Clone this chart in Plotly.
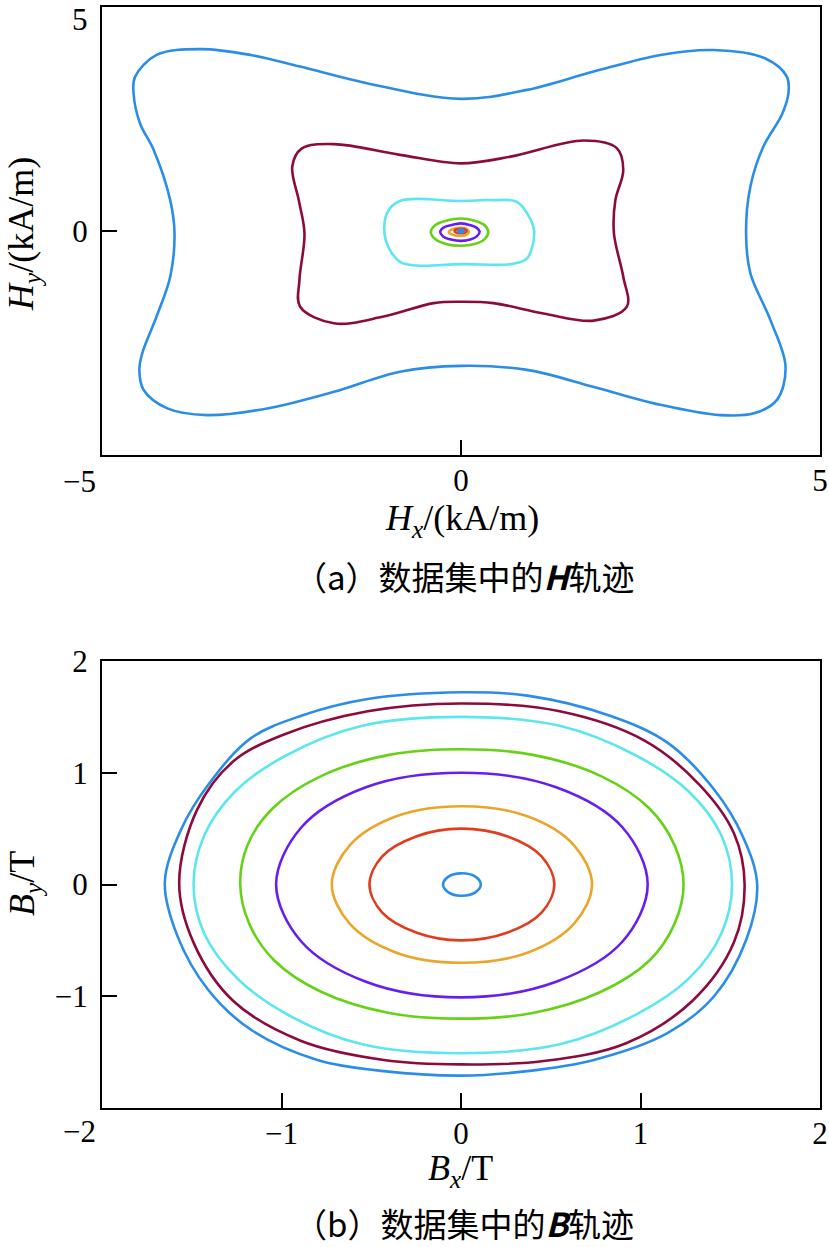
import plotly.graph_objects as go

# ---------------- data: H trajectories (kA/m) ----------------
h1_x = [3.97, 4.03, 4.21, 4.47, 4.56, 4.54, 4.24, 3.52, 2.78, 1.85, 0.92, 0.00, -1.31, -2.24, -2.93, -3.63, -4.24, -4.54, -4.56, -4.47, -4.28, -4.05, -3.99, -4.05, -4.24, -4.44, -4.48, -4.42, -4.09, -3.54, -2.70, -1.77, -0.85, 0.00, 0.92, 1.85, 2.78, 3.61, 4.08, 4.40, 4.52, 4.31, 4.03]
h1_y = [-0.02, 0.99, 1.88, 2.60, 3.07, 3.44, 3.85, 4.04, 3.93, 3.56, 3.15, 2.95, 3.30, 3.67, 3.93, 4.06, 3.93, 3.44, 3.07, 2.40, 1.81, 0.69, -0.05, -1.02, -1.91, -2.73, -3.10, -3.55, -3.96, -4.11, -3.96, -3.59, -3.14, -3.01, -3.10, -3.48, -3.88, -4.11, -4.07, -3.77, -3.03, -1.99, -0.94]

h2_x = [2.13, 2.15, 2.26, 2.17, 1.71, 0.69, 0.00, -0.85, -1.77, -2.22, -2.35, -2.26, -2.18, -2.25, -2.24, -1.77, -1.08, -0.38, 0.00, 0.45, 1.15, 1.85, 2.31, 2.26]
h2_y = [-0.05, 0.69, 1.36, 1.85, 2.02, 1.66, 1.51, 1.70, 1.94, 1.84, 1.44, 0.69, -0.05, -1.09, -1.69, -2.06, -1.91, -1.61, -1.58, -1.61, -1.84, -2.00, -1.69, -1.02]

h3_x = [1.02, 0.97, 0.78, 0.45, 0.00, -0.85, -1.03, -1.05, -0.85, -0.61, 0.00, 0.69, 0.92]
h3_y = [-0.05, 0.25, 0.65, 0.69, 0.67, 0.67, 0.40, -0.20, -0.69, -0.77, -0.74, -0.74, -0.61]

h4_x = [0.38, 0.33, 0.19, 0.00, -0.21, -0.36, -0.42, -0.36, -0.21, 0.00, 0.19, 0.33]
h4_y = [-0.02, 0.13, 0.23, 0.28, 0.23, 0.13, -0.02, -0.18, -0.29, -0.33, -0.29, -0.18]

h5_x = [0.26, 0.22, 0.13, 0.00, -0.14, -0.25, -0.29, -0.25, -0.14, 0.00, 0.13, 0.22]
h5_y = [-0.02, 0.07, 0.13, 0.17, 0.13, 0.07, -0.02, -0.12, -0.19, -0.22, -0.19, -0.12]

h6_x = [0.11, 0.08, -0.03, -0.12, -0.17, -0.12, -0.03, 0.08]
h6_y = [-0.02, 0.05, 0.07, 0.04, -0.02, -0.08, -0.11, -0.08]

h7_x = [0.08, 0.05, 0.00, -0.06, -0.09, -0.06, 0.00, 0.05]
h7_y = [0.00, 0.04, 0.05, 0.04, 0.00, -0.04, -0.05, -0.04]

h8_x = [0.04, 0.03, 0.00, -0.03, -0.04, -0.03, 0.00, 0.03]
h8_y = [0.00, 0.02, 0.03, 0.02, 0.00, -0.02, -0.03, -0.02]

# ---------------- data: B trajectories (T) ----------------
b1_x = [1.65, 1.57, 1.41, 1.15, 0.83, 0.37, 0.00, -0.52, -0.89, -1.17, -1.40, -1.56, -1.65, -1.58, -1.41, -1.17, -0.80, -0.43, 0.00, 0.37, 0.74, 1.15, 1.41, 1.59]
b1_y = [0.00, 0.43, 0.85, 1.27, 1.51, 1.69, 1.72, 1.66, 1.51, 1.31, 0.91, 0.49, 0.02, -0.46, -0.94, -1.30, -1.57, -1.67, -1.71, -1.67, -1.57, -1.33, -1.00, -0.49]

b2_x = [1.58, 1.52, 1.33, 1.02, 0.55, 0.00, -0.52, -0.99, -1.27, -1.47, -1.57, -1.49, -1.27, -0.89, -0.43, 0.00, 0.46, 0.92, 1.29, 1.52]
b2_y = [0.00, 0.46, 0.89, 1.29, 1.55, 1.62, 1.55, 1.34, 1.10, 0.67, 0.02, -0.52, -1.04, -1.40, -1.57, -1.61, -1.58, -1.42, -1.04, -0.52]

b3_x = [1.51, 1.45, 1.27, 0.98, 0.55, 0.00, -0.55, -0.98, -1.26, -1.43, -1.49, -1.43, -1.24, -0.96, -0.55, 0.00, 0.55, 0.98, 1.27, 1.45]
b3_y = [0.00, 0.44, 0.83, 1.15, 1.42, 1.50, 1.42, 1.15, 0.83, 0.44, 0.00, -0.44, -0.85, -1.17, -1.43, -1.51, -1.43, -1.16, -0.84, -0.44]

b4_x = [1.24, 1.19, 1.05, 0.78, 0.40, 0.00, -0.40, -0.78, -1.05, -1.19, -1.23, -1.18, -1.04, -0.78, -0.40, 0.00, 0.40, 0.78, 1.05, 1.19]
b4_y = [0.00, 0.35, 0.68, 0.97, 1.16, 1.21, 1.16, 0.97, 0.68, 0.35, 0.00, -0.35, -0.68, -0.96, -1.15, -1.20, -1.15, -0.96, -0.68, -0.35]

b5_x = [1.04, 0.90, 0.53, 0.00, -0.53, -0.89, -1.03, -0.89, -0.53, 0.00, 0.53, 0.90]
b5_y = [0.00, 0.51, 0.87, 1.00, 0.87, 0.51, 0.00, -0.51, -0.87, -1.01, -0.87, -0.51]

b6_x = [0.73, 0.63, 0.37, 0.00, -0.36, -0.62, -0.72, -0.62, -0.36, 0.00, 0.37, 0.63]
b6_y = [0.00, 0.35, 0.61, 0.70, 0.61, 0.35, 0.00, -0.35, -0.61, -0.70, -0.61, -0.35]

b7_x = [0.52, 0.45, 0.26, 0.00, -0.25, -0.44, -0.51, -0.44, -0.25, 0.00, 0.26, 0.45]
b7_y = [0.00, 0.25, 0.43, 0.50, 0.43, 0.25, 0.00, -0.25, -0.43, -0.50, -0.43, -0.25]

b8_x = [0.11, 0.08, 0.00, -0.07, -0.10, -0.07, 0.00, 0.08]
b8_y = [0.00, 0.07, 0.10, 0.07, 0.00, -0.07, -0.10, -0.07]

colors = ["#2A8DE8", "#8C0A3C", "#5CE6F0", "#66D216", "#661EF0", "#EBA52A", "#E03C1E", "#2A8DE8"]

h_curves = [(h1_x, h1_y), (h2_x, h2_y), (h3_x, h3_y), (h4_x, h4_y),
            (h5_x, h5_y), (h6_x, h6_y), (h7_x, h7_y), (h8_x, h8_y)]
b_curves = [(b1_x, b1_y), (b2_x, b2_y), (b3_x, b3_y), (b4_x, b4_y),
            (b5_x, b5_y), (b6_x, b6_y), (b7_x, b7_y), (b8_x, b8_y)]

# tick values and their labels (corner labels are placed separately below)
H_TICKS = [-5, 0, 5]
HX_TEXT = ["", "0", "5"]
HY_TEXT = ["", "0", ""]
B_TICKS = [-2, -1, 0, 1, 2]
BX_TEXT = ["", "−1", "0", "1", "2"]
BY_TEXT = ["", "−1", "0", "1", "2"]

fig = go.Figure()

def add_loop(xs, ys, color, xa, ya):
    fig.add_trace(go.Scatter(
        x=list(xs) + [xs[0]], y=list(ys) + [ys[0]],
        mode="lines", line=dict(color=color, width=2.6, shape="spline", smoothing=1.0),
        xaxis=xa, yaxis=ya, showlegend=False, hoverinfo="skip"))

for (xs, ys), c in zip(h_curves, colors):
    add_loop(xs, ys, c, "x", "y")
for (xs, ys), c in zip(b_curves, colors):
    add_loop(xs, ys, c, "x2", "y2")

W, H = 829, 1247
def px(v):
    return v / W
def py(v):
    return 1 - v / H

tickfont = dict(family="Liberation Serif", size=31, color="black")
axis_common = dict(showline=True, mirror=True, linecolor="black", linewidth=2,
                   ticks="inside", ticklen=15, tickwidth=2, tickcolor="black",
                   showgrid=False, zeroline=False, tickfont=tickfont, automargin=False)

fig.update_layout(
    width=W, height=H, margin=dict(l=0, r=0, t=0, b=0, autoexpand=False),
    paper_bgcolor="white", plot_bgcolor="white", showlegend=False,
    xaxis=dict(domain=[px(102), px(820)], range=[-5, 5], tickvals=H_TICKS, ticktext=HX_TEXT,
               anchor="y", ticklabelstandoff=-3, **axis_common),
    yaxis=dict(domain=[py(455), py(7)], range=[-5, 5], tickvals=H_TICKS, ticktext=HY_TEXT,
               anchor="x", ticklabelstandoff=6, **axis_common),
    xaxis2=dict(domain=[px(102), px(820)], range=[-2, 2], tickvals=B_TICKS, ticktext=BX_TEXT,
                anchor="y2", ticklabelstandoff=-3, **axis_common),
    yaxis2=dict(domain=[py(1108), py(661)], range=[-2, 2], tickvals=B_TICKS, ticktext=BY_TEXT,
                anchor="x2", ticklabelstandoff=6, **axis_common),
)

serif = dict(family="Liberation Serif", size=36, color="black")
cjk = dict(family="Noto Sans CJK SC", size=33, color="black")

annotations = [
    # corner tick labels
    dict(text="5", x=px(80), y=py(0), font=tickfont, yanchor="top"),
    dict(text="−5", x=px(79), y=py(481), font=tickfont, yanchor="middle"),
    dict(text="−2", x=px(79), y=py(1131), font=tickfont, yanchor="middle"),
    # axis titles and captions
    dict(text="<i>H</i><sub><i>x</i></sub>/(kA/m)", x=px(462), y=py(520), font=serif, yanchor="middle"),
    dict(text="<i>H</i><sub><i>y</i></sub>/(kA/m)", x=px(24), y=py(234), font=serif, textangle=-90, yanchor="middle"),
    dict(text="（a）数据集中的<b><i>H</i></b>轨迹", x=px(464), y=py(576), font=cjk, yanchor="middle"),
    dict(text="<i>B</i><sub><i>x</i></sub>/T", x=px(461), y=py(1170), font=serif, yanchor="middle"),
    dict(text="<i>B</i><sub><i>y</i></sub>/T", x=px(24), y=py(884), font=serif, textangle=-90, yanchor="middle"),
    dict(text="（b）数据集中的<b><i>B</i></b>轨迹", x=px(464), y=py(1223), font=cjk, yanchor="middle"),
]
for a in annotations:
    fig.add_annotation(xref="paper", yref="paper", showarrow=False,
                       xanchor="center", **a)

fig.write_html("out.html")
